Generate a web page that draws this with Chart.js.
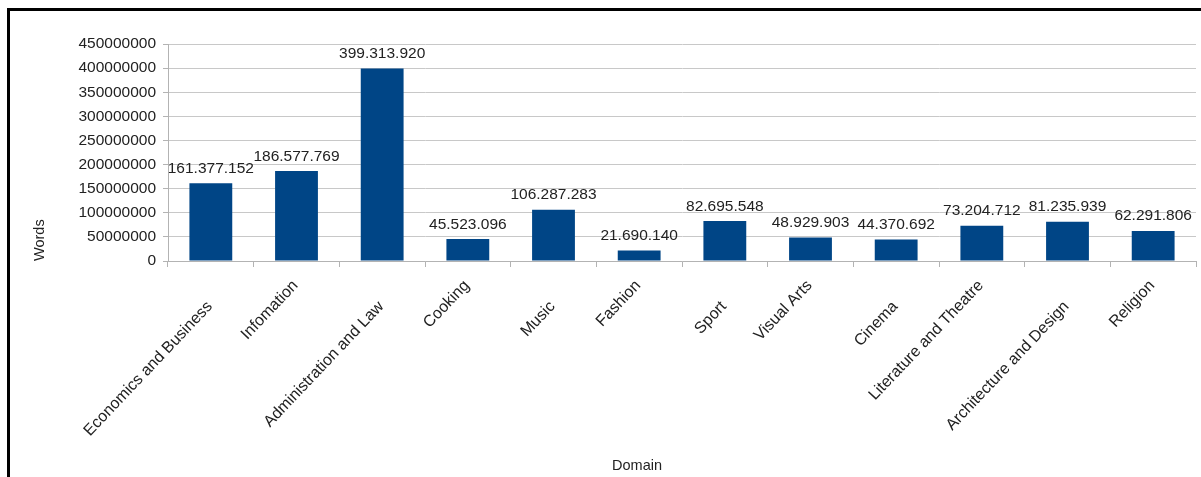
<!DOCTYPE html>
<html>
<head>
<meta charset="utf-8">
<script src="https://cdn.jsdelivr.net/npm/chart.js@4"></script>
<style>
  html, body { margin: 0; padding: 0; background: #fff; overflow: hidden; }
  #frame {
    position: absolute; left: 7px; top: 8px;
    width: 1210px; height: 490px;
    border: 3px solid #000; box-sizing: border-box;
  }
  #wrap { position: absolute; left: 0; top: 0; width: 1201px; height: 477px; }
</style>
</head>
<body>
<div id="frame"></div>
<div id="wrap"><canvas id="chartDominios"></canvas></div>
<script>
// Datos
const dominios = ['Economics and Business', 'Infomation', 'Administration and Law', 'Cooking', 'Music',
  'Fashion', 'Sport', 'Visual Arts', 'Cinema', 'Literature and Theatre', 'Architecture and Design', 'Religion'];
const palabras = [161377152, 186577769, 399313920, 45523096, 106287283, 21690140,
  82695548, 48929903, 44370692, 73204712, 81235939, 62291806];
const ticksY = [0, 50000000, 100000000, 150000000, 200000000, 250000000, 300000000, 350000000, 400000000, 450000000];

const fuente = 'Liberation Sans, Arial, sans-serif';
const colorTexto = '#222';

// Formato con puntos de miles
function conPuntos(v) {
  return String(v).replace(/\B(?=(\d{3})+(?!\d))/g, '.');
}

// Etiquetas de valores, etiquetas escalonadas del eje X y título "Domain"
const textosExtra = {
  id: 'textosExtra',
  afterDatasetsDraw(chart) {
    const ctx = chart.ctx;
    const meta = chart.getDatasetMeta(0);
    ctx.save();
    ctx.font = '15.5px ' + fuente;
    ctx.fillStyle = colorTexto;
    ctx.textAlign = 'center';
    ctx.textBaseline = 'bottom';
    meta.data.forEach((bar, i) => {
      ctx.fillText(conPuntos(palabras[i]), bar.x, bar.y - 7);
    });
    ctx.restore();
  },
  afterDraw(chart) {
    const ctx = chart.ctx;
    const escalaX = chart.scales.x;
    const base = chart.chartArea.bottom;
    ctx.save();
    ctx.font = '16px ' + fuente;
    ctx.fillStyle = colorTexto;
    ctx.textAlign = 'right';
    ctx.textBaseline = 'middle';
    dominios.forEach((d, i) => {
      const x = escalaX.getPixelForTick(i) - 1;
      const y = base + (i % 2 === 0 ? 43 : 22);
      ctx.save();
      ctx.translate(x, y);
      ctx.rotate(-46.5 * Math.PI / 180);
      ctx.fillText(d, 0, 0);
      ctx.restore();
    });
    ctx.font = '14.5px ' + fuente;
    ctx.textAlign = 'center';
    ctx.fillText('Domain', 637, 466);
    ctx.restore();
  }
};

Chart.defaults.maintainAspectRatio = false;
Chart.defaults.animation = false;

new Chart(document.getElementById('chartDominios'), {
  type: 'bar',
  data: {
    labels: dominios,
    datasets: [{
      label: 'Words',
      data: palabras,
      backgroundColor: '#004586',
      barPercentage: 0.5,
      categoryPercentage: 1
    }]
  },
  options: {
    layout: { padding: { left: 31, top: 44, right: 5, bottom: 2 } },
    plugins: {
      legend: { display: false },
      tooltip: { enabled: false }
    },
    scales: {
      x: {
        offset: true,
        grid: {
          offset: true,
          color: c => c.index === dominios.length ? '#b3b3b3' : 'transparent',
          tickColor: '#b3b3b3',
          tickLength: 6
        },
        border: { color: '#b3b3b3' },
        ticks: { display: false, autoSkip: false },
        afterFit: s => { s.height = 477 - 261 - 2; }
      },
      y: {
        min: 0,
        max: 450000000,
        afterBuildTicks: s => { s.ticks = ticksY.map(v => ({ value: v })); },
        grid: { color: '#c8c8c8', tickColor: '#b3b3b3', tickLength: 5 },
        border: { color: '#b3b3b3' },
        ticks: {
          color: colorTexto,
          padding: 7,
          font: { family: fuente, size: 15.5 },
          callback: v => String(v)
        },
        title: {
          display: true,
          text: 'Words',
          align: 'start',
          color: colorTexto,
          font: { family: fuente, size: 14.5 },
          padding: 0
        },
        afterFit: s => { s.width = 168 - 31; }
      }
    }
  },
  plugins: [textosExtra]
});
</script>
</body>
</html>
